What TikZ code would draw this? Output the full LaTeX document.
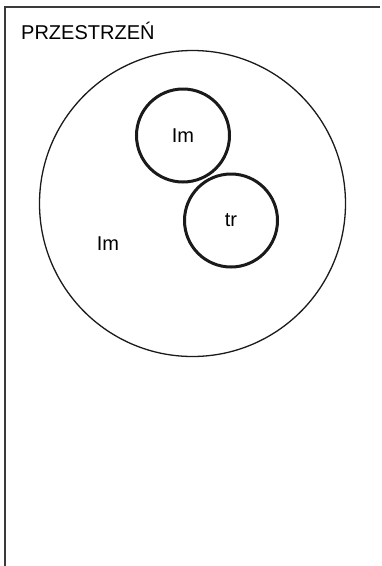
\documentclass[tikz,border=0pt]{standalone}
\usepackage{fontspec}
\setmainfont{Liberation Sans}
\usetikzlibrary{positioning}
\definecolor{frameline}{HTML}{3A3A3A}
\definecolor{ink}{HTML}{1A1A1A}

\begin{document}
\begin{tikzpicture}[x=1pt, y=-1pt, font=\fontsize{20}{24}\selectfont,
    set/.style={draw=ink, circle, line width=3pt, minimum size=93pt, inner sep=0pt},
    universe/.style={draw=ink, circle, line width=1.3pt, minimum size=306pt, inner sep=0pt}]
  \useasboundingbox (0,0) rectangle (381,566);
  % ramka przestrzeni
  \coordinate (bl) at (5,566);
  \coordinate (tr0) at (380,7);
  \draw[frameline, line width=1.4pt] (bl) |- (tr0);
  \node[anchor=base west, inner sep=0pt] (title) at (21,39) {PRZESTRZEŃ};
  % zbiory
  \node[universe] (big) at (192.5,203.5) {};
  \node[set] (lm) at (183,135.5) {Im};
  \node[set] (t) at (231,220.5) {tr};
  \node (lmout) at (108,243.5) {Im};
\end{tikzpicture}
\end{document}
